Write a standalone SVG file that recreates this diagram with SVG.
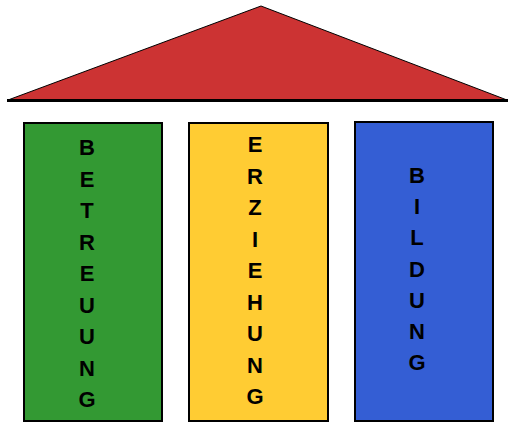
<svg xmlns="http://www.w3.org/2000/svg" width="508" height="422" viewBox="0 0 508 422">
<style>
.box{stroke:#000;stroke-width:2}
.lbl{font-family:"Liberation Sans",Arial,sans-serif;font-weight:bold;font-size:22px;fill:#000;text-anchor:middle}
</style>
<rect width="508" height="422" fill="#fff"/>
<g id="roof">
<polygon points="8,100 261,6 507,100" fill="#CC3333" stroke="#000" stroke-width="1"/>
<line x1="7" y1="100.5" x2="508" y2="100.5" stroke="#000" stroke-width="3"/>
</g>
<g id="betreuung">
<rect class="box" x="24" y="123" width="138" height="298" fill="#339933"/>
<text class="lbl"><tspan x="87" y="155">B</tspan><tspan x="87" y="186.5">E</tspan><tspan x="87" y="218">T</tspan><tspan x="87" y="249.5">R</tspan><tspan x="87" y="281">E</tspan><tspan x="87" y="312.5">U</tspan><tspan x="87" y="344">U</tspan><tspan x="87" y="375.5">N</tspan><tspan x="87" y="407">G</tspan></text>
</g>
<g id="erziehung">
<rect class="box" x="189" y="123" width="139" height="298" fill="#FFCC33"/>
<text class="lbl"><tspan x="255" y="152">E</tspan><tspan x="255" y="183.5">R</tspan><tspan x="255" y="215">Z</tspan><tspan x="255" y="246.5">I</tspan><tspan x="255" y="278">E</tspan><tspan x="255" y="309.5">H</tspan><tspan x="255" y="341">U</tspan><tspan x="255" y="372.5">N</tspan><tspan x="255" y="404">G</tspan></text>
</g>
<g id="bildung">
<rect class="box" x="355" y="122" width="138" height="299" fill="#345ED4"/>
<text class="lbl"><tspan x="417" y="183">B</tspan><tspan x="417" y="214.2">I</tspan><tspan x="417" y="245.4">L</tspan><tspan x="417" y="276.6">D</tspan><tspan x="417" y="307.8">U</tspan><tspan x="417" y="339">N</tspan><tspan x="417" y="370.2">G</tspan></text>
</g>
<g id="connectors"></g>
</svg>
